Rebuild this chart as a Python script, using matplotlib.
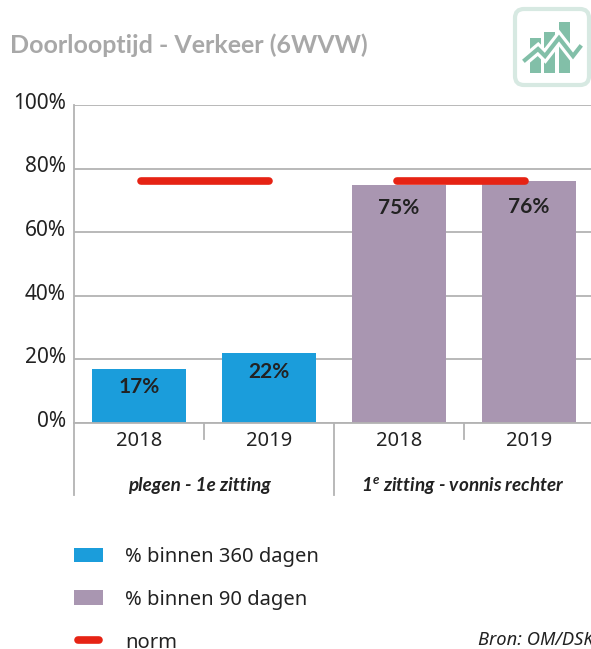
import matplotlib
matplotlib.use("Agg")
import matplotlib.pyplot as plt
from matplotlib.legend_handler import HandlerLine2D
from matplotlib.lines import Line2D
from matplotlib.patches import FancyBboxPatch, Patch, Rectangle
from matplotlib.transforms import ScaledTranslation, blended_transform_factory

plt.rcParams['font.family'] = ['Noto Sans', 'DejaVu Sans']
plt.rcParams['mathtext.fontset'] = 'custom'
plt.rcParams['mathtext.it'] = 'Lato:italic:bold'

title = "Doorlooptijd - Verkeer (6WVW)"
years = ["2018", "2019", "2018", "2019"]
blue_values = [17, 22]
purple_values = [75, 76]
norm_values = [76, 76]
y_ticks = [0, 20, 40, 60, 80, 100]
group_names = ["plegen - 1e zitting", r"1$^{\mathit{e}}$ zitting - vonnis rechter"]
legend_labels = ["% binnen 360 dagen", "% binnen 90 dagen", "norm"]
source = "Bron: OM/DSK"

BLUE = "#1b9ddb"
PURPLE = "#a996b1"
RED = "#e62314"
GRID = "#b3b3b3"
DARK = "#222222"
BOLD_FONT = ["Lato", "DejaVu Sans"]
W, H = 591, 649


class ShortLine(HandlerLine2D):
    # keeps the round caps inside the handle box
    def create_artists(self, legend, orig, xd, yd, w, h, fs, trans):
        pad = 3
        return super().create_artists(legend, orig, xd - pad, yd, w - 2*pad, h, fs, trans)


fig = plt.figure(figsize=(W/100, H/100), dpi=100)
ax = fig.add_axes([74/W, 1-423/H, (W-74)/W, 318/H])
ax.set_xlim(-0.5, 3.477)
ax.set_ylim(0, 100)

# bars
ax.bar([0, 1], blue_values, width=0.723, color=BLUE, zorder=2)
ax.bar([2, 3], purple_values, width=0.723, color=PURPLE, zorder=2)

# norm lines, they are shifted a bit in the original
ax.plot([0.015, 1.0], [norm_values[0]]*2, color=RED, lw=5.5, solid_capstyle="round", zorder=3)
ax.plot([1.985, 2.97], [norm_values[1]]*2, color=RED, lw=5.5, solid_capstyle="round", zorder=3)

# value labels
label_drop = [18, 19, 23, 26]
for i, v in enumerate(blue_values + purple_values):
    ax.annotate("%d%%" % v, (i, v), xytext=(0, -label_drop[i]*0.72), textcoords="offset points",
                ha="center", va="center", fontsize=15, fontweight="bold", family=BOLD_FONT,
                color=DARK, zorder=4)

# axes styling
for s in ["top", "right"]:
    ax.spines[s].set_visible(False)
for s in ["left", "bottom"]:
    ax.spines[s].set_color(GRID)
    ax.spines[s].set_linewidth(1.3)
ax.set_yticks(y_ticks)
ax.set_yticklabels(["%d%%" % t for t in y_ticks], fontsize=15, color=DARK)
ax.tick_params(axis="y", length=0, pad=6)
up = ScaledTranslation(0, 3/72, fig.dpi_scale_trans)
for lab in ax.get_yticklabels():
    lab.set_transform(lab.get_transform() + up)
ax.grid(axis="y", color=GRID, lw=1.3, zorder=1)
ax.set_axisbelow(True)
ax.set_xticks(range(4))
ax.set_xticklabels(years, fontsize=14.5, color=DARK)
ax.tick_params(axis="x", length=0, pad=6)

# separators below the axis
tr = blended_transform_factory(ax.transData, ax.transAxes)
for x in [0.5, 2.5]:
    ax.plot([x, x], [0, -16/318], color=GRID, lw=1.3, transform=tr, clip_on=False)
for x in [-0.5, 1.5]:
    ax.plot([x, x], [0, -72/318], color=GRID, lw=1.3, transform=tr, clip_on=False)

for x, name in zip([0.465, 2.49], group_names):
    ax.text(x, -63/318, name, transform=tr, ha="center", va="center", fontsize=13.6,
            style="italic", fontweight="bold", family=BOLD_FONT, color=DARK, clip_on=False)

# overlay in pixel coordinates for title, icon, source
over = fig.add_axes([0, 0, 1, 1], zorder=5)
over.set_xlim(0, W)
over.set_ylim(H, 0)
over.axis("off")
over.patch.set_alpha(0)
over.text(10, 45, title, fontsize=18, fontweight="bold", family=BOLD_FONT, color="#a8a8a8", va="center")
over.text(478, 640, source, fontsize=13.2, style="italic", color=DARK, va="center")

over.add_patch(FancyBboxPatch((520, 14), 64, 66, boxstyle="round,pad=5,rounding_size=9",
                              fc="white", ec="#d7e9e2", lw=3))
for x0, top in zip([530, 544, 559], [38, 32, 22]):
    over.add_patch(Rectangle((x0, top), 11, 73-top, fc="#82bfa8", ec="none"))
zig_x = [525, 538, 545, 559, 573, 580]
zig_y = [60, 49, 56, 38, 56, 47]
over.plot(zig_x, zig_y, color="white", lw=7.5, solid_joinstyle="miter")
over.plot(zig_x, zig_y, color="#82bfa8", lw=3, solid_joinstyle="miter")

# legend
handles = [Patch(fc=BLUE, ec="none"), Patch(fc=PURPLE, ec="none"),
           Line2D([0], [0], color=RED, lw=5.5, solid_capstyle="round")]
fig.legend(handles, legend_labels, loc="upper left", bbox_to_anchor=(74/W, 1-547/H),
           bbox_transform=fig.transFigure, frameon=False, fontsize=14.5, labelcolor=DARK,
           borderpad=0, borderaxespad=0, handlelength=1.45, handleheight=0.75,
           handletextpad=1.1, labelspacing=1.13,
           handler_map={handles[2]: ShortLine()})

fig.savefig("out.png", dpi=100)
